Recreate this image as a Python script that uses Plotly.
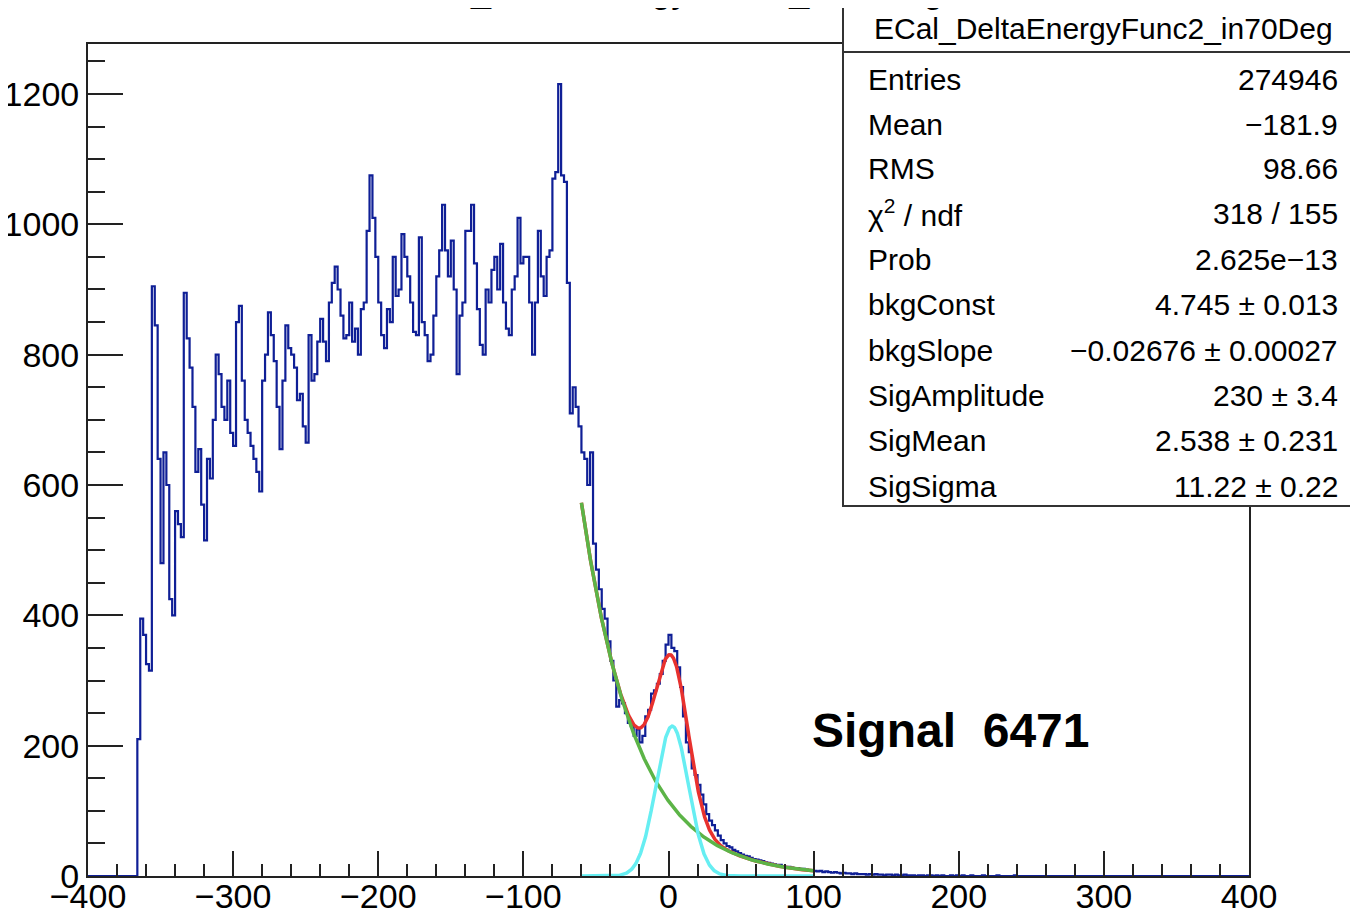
import numpy as np
import plotly.graph_objects as go

# ---------------- data ----------------
bin_width = 2
first_bin_low = -366  # lower edge of first non-empty bin

counts = [
    # -366 .. -268
    210, 395, 370, 325, 315, 905, 845, 640, 480, 650,
    600, 425, 400, 560, 540, 520, 895, 825, 780, 720,
    620, 655, 570, 515, 640, 610, 700, 800, 770, 720,
    700, 760, 680, 660, 850, 875, 760, 700, 680, 660,
    640, 620, 590, 760, 800, 865, 830, 790, 720, 655,
    # -266 .. -168
    760, 845, 810, 800, 780, 730, 740, 690, 665, 830,
    760, 770, 820, 855, 820, 790, 880, 910, 935, 900,
    860, 825, 830, 880, 820, 840, 800, 870, 880, 990,
    1075, 1010, 950, 880, 830, 810, 870, 850, 950, 890,
    900, 985, 950, 920, 880, 835, 830, 980, 850, 830,
    # -166 .. -68
    790, 800, 860, 920, 960, 1030, 960, 920, 975, 900,
    770, 860, 880, 990, 990, 1030, 940, 870, 815, 800,
    900, 880, 930, 950, 900, 970, 880, 840, 830, 900,
    920, 1010, 940, 950, 950, 880, 800, 880, 990, 920,
    890, 950, 960, 1070, 1080, 1215, 1075, 1065, 910, 710,
    # -66 .. 32
    750, 720, 690, 650, 640, 600, 650, 510, 470, 440,
    410, 395, 360, 330, 300, 260, 270, 265, 250, 235,
    230, 215, 225, 205, 215, 245, 255, 280, 285, 295,
    310, 330, 355, 370, 350, 345, 320, 290, 245, 205,
    190, 165, 155, 140, 125, 110, 95, 85, 78, 70,
    # 34 .. 98
    62, 55, 50, 46, 44, 40, 38, 35, 33, 31,
    30, 28, 26, 25, 24, 23, 21, 20, 19, 18,
    17, 17, 15, 14, 14, 13, 12, 12, 11, 11,
    10, 9, 9,
    # 100 .. 138
    8, 7, 8, 6, 7, 6, 5, 6, 5, 4,
    5, 4, 4, 3, 4, 3, 3, 3, 2, 3,
    # 140 .. 198
    2, 3, 2, 2, 1, 2, 2, 1, 2, 1,
    1, 2, 1, 1, 1, 0, 1, 1, 0, 1,
    1, 0, 1, 0, 1, 0, 0, 1, 0, 1,
    # 200 .. 258
    0, 1, 0, 0, 1, 0, 0, 0, 1, 0,
    0, 0, 0, 1, 0, 0, 0, 0, 0, 1,
    0, 0, 0, 0, 0, 0, 0, 0, 0, 0,
]

# fit result (from the stats box)
bkg_const = 4.745
bkg_slope = -0.02676
sig_amplitude = 230.0
sig_mean = 2.538
sig_sigma = 11.22
fit_low, fit_high = -60, 100

hist_name = "ECal_DeltaEnergyFunc2_in70Deg"
stats_labels = ["Entries", "Mean", "RMS", "χ<sup>2</sup> / ndf", "Prob",
                "bkgConst", "bkgSlope", "SigAmplitude", "SigMean", "SigSigma"]
stats_values = ["274946", "\u2212181.9", "98.66", "318 / 155", "2.625e\u221213",
                "4.745 ± 0.013", "\u22120.02676 ± 0.00027", "230 ± 3.4",
                "2.538 ± 0.231", "11.22 ± 0.22"]
signal_text = "Signal\u00a0\u00a06471"

x_range = [-400, 400]
y_range = [0, 1276.7]

# ---------------- build figure ----------------
FONT = "Liberation Sans, Arial, Helvetica, sans-serif"
PAGE_OFF = 8                      # default body margin of the html page
W, H = 1358 - PAGE_OFF, 913
# plot frame in page pixels
L, R, T, B = 88, 1249, 44, 876
pw, ph = R - L, B - T


def px(x):
    return (x - L) / pw


def py(y):
    return (B - y) / ph


n = len(counts)
edges = first_bin_low + bin_width * np.arange(n + 1)
hx = [x_range[0]] + list(edges[:-1]) + [edges[-1], x_range[1]]
hy = [0] + list(counts) + [0, 0]

xf = np.linspace(fit_low, fit_high, 600)
bkg = np.exp(bkg_const + bkg_slope * xf)
sig = sig_amplitude * np.exp(-0.5 * ((xf - sig_mean) / sig_sigma) ** 2)
tot = bkg + sig

fig = go.Figure()
fig.add_trace(go.Scatter(x=hx, y=hy, mode="lines", line=dict(shape="hv", color="#0f1f96", width=2.2),
                         hoverinfo="skip", showlegend=False))
fig.add_trace(go.Scatter(x=xf, y=tot, mode="lines", line=dict(color="#e8312e", width=3.5),
                         showlegend=False))
fig.add_trace(go.Scatter(x=xf, y=bkg, mode="lines", line=dict(color="#5cb447", width=3.5),
                         showlegend=False))
fig.add_trace(go.Scatter(x=xf, y=sig, mode="lines", line=dict(color="#66eef2", width=3.5),
                         showlegend=False))

axis_common = dict(showgrid=False, zeroline=False, showline=True, mirror=True, automargin=False,
                   linecolor="#222222", linewidth=2, ticks="inside", tickcolor="#222222",
                   tickwidth=1.5, tickfont=dict(family=FONT, size=34, color="black"))

fig.update_xaxes(range=x_range, tickmode="linear", tick0=-400, dtick=100, ticklen=25,
                 ticklabelstandoff=-11,
                 minor=dict(ticks="inside", dtick=20, ticklen=12, tickcolor="#222222", tickwidth=1.5),
                 **axis_common)
fig.update_yaxes(range=y_range, tickmode="linear", tick0=0, dtick=200, ticklen=35,
                 minor=dict(ticks="inside", dtick=50, ticklen=17, tickcolor="#222222", tickwidth=1.5),
                 **axis_common)

shapes = [
    dict(type="rect", xref="paper", yref="paper", x0=px(843), x1=px(1372), y0=py(506), y1=py(7),
         line=dict(color="#333333", width=2), fillcolor="white", layer="above"),
    dict(type="line", xref="paper", yref="paper", x0=px(843), x1=px(1372), y0=py(52), y1=py(52),
         line=dict(color="#333333", width=2), layer="above"),
]

annotations = [
    dict(text=hist_name, xref="paper", yref="paper", x=px(1103), y=py(29), xanchor="center",
         yanchor="middle", showarrow=False, font=dict(family=FONT, size=30, color="black")),
    dict(text=hist_name, xref="paper", yref="paper", x=px(668), y=py(12), xanchor="center",
         yanchor="bottom", showarrow=False, font=dict(family=FONT, size=36, color="black")),
    dict(text="<b>" + signal_text + "</b>", xref="paper", yref="paper", x=px(810), y=py(730),
         xanchor="left", yanchor="middle", showarrow=False,
         font=dict(family=FONT, size=48, color="black")),
]
row_y = [79, 124, 169, 213, 260, 304, 350, 395, 440, 486]
for lab, val, yy in zip(stats_labels, stats_values, row_y):
    annotations.append(dict(text=lab, xref="paper", yref="paper", x=px(866), y=py(yy), xanchor="left",
                            yanchor="middle", showarrow=False,
                            font=dict(family=FONT, size=30, color="black")))
    annotations.append(dict(text=val, xref="paper", yref="paper", x=px(1340), y=py(yy), xanchor="right",
                            yanchor="middle", showarrow=False,
                            font=dict(family=FONT, size=30, color="black")))

fig.update_layout(width=W, height=H,
                  margin=dict(l=L - PAGE_OFF, r=W - (R - PAGE_OFF), t=T - PAGE_OFF,
                              b=H - (B - PAGE_OFF), pad=0, autoexpand=False),
                  paper_bgcolor="white", plot_bgcolor="white", shapes=shapes,
                  annotations=annotations, showlegend=False)

fig.write_html("out.html")
